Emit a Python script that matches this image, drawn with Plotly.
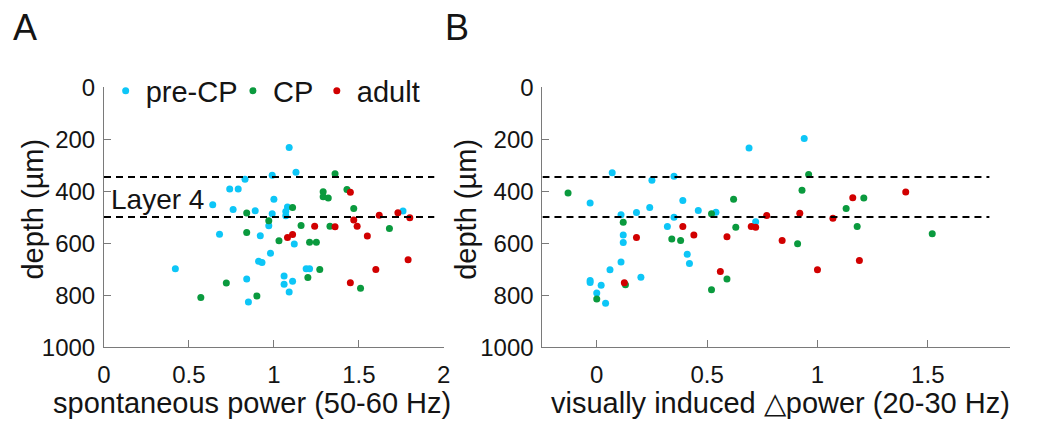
import plotly.graph_objects as go

# ---------------- data ----------------
series_names = ["pre-CP", "CP", "adult"]

# Panel A: spontaneous power (50-60 Hz) vs depth
pre_cp_A_x = [0.42, 0.64, 0.68, 0.74, 0.79, 0.83, 0.76, 0.89, 0.92, 0.91, 0.93, 0.84, 0.85, 0.97, 0.99,
              1.00, 0.99, 0.98, 1.09, 1.13, 1.08, 1.07, 1.07, 1.12, 1.06, 1.06, 1.11, 1.09, 1.19, 1.21, 1.76]
pre_cp_A_y = [697, 451, 565, 391, 391, 353, 470, 474, 571, 669, 673, 737, 825, 532, 338,
              430, 486, 638, 231, 326, 460, 477, 494, 602, 725, 757, 746, 787, 697, 697, 475]
cp_A_x = [0.57, 0.72, 0.84, 0.84, 0.90, 0.97, 1.03, 1.11, 1.16, 1.21, 1.25, 1.27, 1.20, 1.29, 1.29,
          1.32, 1.33, 1.36, 1.43, 1.47, 1.51, 1.68]
cp_A_y = [808, 752, 483, 558, 802, 513, 590, 462, 531, 596, 596, 700, 731, 401, 421,
          425, 534, 332, 393, 466, 772, 543]
adult_A_x = [1.08, 1.11, 1.24, 1.36, 1.45, 1.47, 1.49, 1.45, 1.55, 1.60, 1.62, 1.73, 1.80, 1.79]
adult_A_y = [577, 566, 534, 536, 403, 510, 534, 751, 572, 700, 492, 482, 501, 663]

# Panel B: visually induced delta power (20-30 Hz) vs depth
pre_cp_B_x = [-0.03, -0.03, -0.03, 0.00, 0.02, 0.04, 0.06, 0.07, 0.11, 0.12, 0.12, 0.11, 0.18, 0.20,
              0.24, 0.25, 0.32, 0.35, 0.35, 0.39, 0.41, 0.42, 0.46, 0.54, 0.69, 0.72, 0.94]
pre_cp_B_y = [445, 743, 750, 791, 761, 830, 701, 328, 490, 568, 597, 672, 481, 730,
              462, 357, 535, 342, 499, 435, 642, 677, 473, 480, 233, 517, 197]
cp_B_x = [-0.13, 0.00, 0.12, 0.13, 0.34, 0.38, 0.52, 0.52, 0.59, 0.62, 0.63, 0.91, 0.93, 0.96,
          1.13, 1.18, 1.21, 1.52]
cp_B_y = [406, 814, 519, 759, 583, 589, 486, 778, 737, 430, 538, 601, 396, 335,
          466, 535, 425, 563]
adult_B_x = [0.125, 0.18, 0.39, 0.44, 0.56, 0.59, 0.70, 0.72, 0.77, 0.84, 0.92, 1.00, 1.07, 1.16, 1.19, 1.40]
adult_B_y = [751, 577, 535, 568, 708, 574, 535, 538, 493, 589, 484, 701, 503, 424, 666, 402]

layer4_bounds = [345, 498]
y_ticks = [0, 200, 400, 600, 800, 1000]
xA_ticks = [0, 0.5, 1, 1.5, 2]
xB_ticks = [0, 0.5, 1, 1.5]

# ---------------- style ----------------
colors = ["#0DC6F7", "#0A9A3E", "#D10000"]
FONT = "Liberation Sans, Arial, sans-serif"
TXT = "#141414"
AX = "#7a7a7a"
W, H = 1049, 431


def px_x(p):
    return p / W


def px_y(p):
    return (H - p) / H


fig = go.Figure()
panelA = [(pre_cp_A_x, pre_cp_A_y), (cp_A_x, cp_A_y), (adult_A_x, adult_A_y)]
panelB = [(pre_cp_B_x, pre_cp_B_y), (cp_B_x, cp_B_y), (adult_B_x, adult_B_y)]
legend_ids = ["legend", "legend2", "legend3"]
for i, (xs, ys) in enumerate(panelA):
    fig.add_trace(go.Scatter(x=xs, y=ys, mode="markers", name=series_names[i],
                             marker=dict(color=colors[i], size=7, line=dict(width=0)),
                             xaxis="x", yaxis="y", showlegend=True, legend=legend_ids[i]))
for i, (xs, ys) in enumerate(panelB):
    fig.add_trace(go.Scatter(x=xs, y=ys, mode="markers", name=series_names[i],
                             marker=dict(color=colors[i], size=7, line=dict(width=0)),
                             xaxis="x2", yaxis="y2", showlegend=False))

ydom = [px_y(355.7), px_y(78.3)]
common_axis = dict(showline=True, linecolor=AX, linewidth=1, ticks="inside", ticklen=7,
                   tickcolor=AX, tickwidth=1, showgrid=False, zeroline=False,
                   tickfont=dict(family=FONT, size=24, color=TXT))
xaxis_extra = dict(ticklabelstandoff=6)
yaxis_extra = dict(ticklabelstandoff=3)

leg_common = dict(orientation="h", xanchor="left", y=px_y(82), yanchor="middle",
                  font=dict(family=FONT, size=29, color=TXT), bgcolor="rgba(0,0,0,0)",
                  itemsizing="trace")
fig.update_layout(
    width=W, height=H, margin=dict(l=0, r=0, t=0, b=0),
    paper_bgcolor="white", plot_bgcolor="white",
    xaxis=dict(domain=[px_x(98.3), px_x(442.7)], range=[0, 2], tickvals=xA_ticks,
               ticktext=["0", "0.5", "1", "1.5", "2"], anchor="y", **common_axis, **xaxis_extra),
    yaxis=dict(domain=ydom, range=[1000, 0], tickvals=y_ticks, anchor="x",
               **common_axis, **yaxis_extra),
    xaxis2=dict(domain=[px_x(542.7), px_x(1016.7)], range=[-0.246, 1.873], tickvals=xB_ticks,
                ticktext=["0", "0.5", "1", "1.5"], anchor="y2", **common_axis, **xaxis_extra),
    yaxis2=dict(domain=ydom, range=[1000, 0], tickvals=y_ticks, anchor="x2",
                **common_axis, **yaxis_extra),
    legend=dict(x=px_x(100), **leg_common),
    legend2=dict(x=px_x(229), **leg_common),
    legend3=dict(x=px_x(314), **leg_common),
)

for yb in layer4_bounds:
    fig.add_shape(type="line", xref="x", yref="y", x0=0, x1=1.944, y0=yb, y1=yb,
                  line=dict(color="black", width=2, dash="7px,5px"))
    fig.add_shape(type="line", xref="x2", yref="y2", x0=-0.246, x1=1.779, y0=yb, y1=yb,
                  line=dict(color="black", width=2, dash="7px,5px"))

# axis titles
title_font = dict(family=FONT, size=29, color=TXT)
fig.add_annotation(text="spontaneous power (50-60 Hz)", xref="paper", yref="paper",
                   x=px_x(248), y=px_y(415), xanchor="center", yanchor="middle",
                   showarrow=False, font=title_font)
fig.add_annotation(text="visually induced △power (20-30 Hz)", xref="paper", yref="paper",
                   x=px_x(784), y=px_y(415), xanchor="center", yanchor="middle",
                   showarrow=False, font=title_font)
for xc in [26, 465]:
    fig.add_annotation(text="depth (µm)", xref="paper", yref="paper", textangle=-90,
                       x=px_x(xc), y=px_y(208), xanchor="center", yanchor="middle",
                       showarrow=False, font=dict(family=FONT, size=29, color=TXT))

fig.add_annotation(text="Layer 4", xref="x", yref="y", x=0.03, y=432, xanchor="left",
                   yanchor="middle", showarrow=False, font=dict(family=FONT, size=28, color=TXT))
fig.add_annotation(text="A", xref="paper", yref="paper", x=px_x(4), y=px_y(14), xanchor="left",
                   yanchor="middle", showarrow=False, font=dict(family=FONT, size=36, color=TXT))
fig.add_annotation(text="B", xref="paper", yref="paper", x=px_x(442), y=px_y(14), xanchor="left",
                   yanchor="middle", showarrow=False, font=dict(family=FONT, size=36, color=TXT))

fig.write_html("out.html")
